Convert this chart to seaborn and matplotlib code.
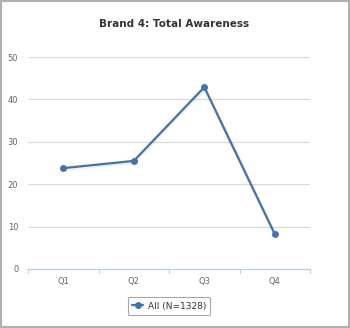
import pandas as pd
import matplotlib
matplotlib.use("Agg")
import matplotlib.pyplot as plt
import seaborn as sns
from matplotlib.patches import Rectangle

quarters = ["Q1", "Q2", "Q3", "Q4"]
awareness = [23.8, 25.5, 42.9, 8.2]
series_name = "All (N=1328)"
y_ticks = [0, 10, 20, 30, 40, 50]

df = pd.DataFrame({"Quarter": quarters, "Awareness": awareness, "Series": series_name})
df["x"] = range(len(quarters))

sns.set_style("white")
plt.rcParams["font.family"] = ["DejaVu Sans"]

fig = plt.figure(figsize=(3.5, 3.28), dpi=100)
ax = fig.add_axes([0.08, 0.180, 0.806, 0.646])

line_color = "#4572A7"

# faint shadow under the line
sns.lineplot(x=df["x"] + 0.01, y=df["Awareness"] - 0.3, ax=ax,
             color="#000000", alpha=0.06, linewidth=2.5, legend=False)
sns.lineplot(data=df, x="x", y="Awareness", hue="Series", palette=[line_color],
             marker="o", markersize=5, markeredgewidth=0, linewidth=1.6, ax=ax)

ax.set_xlim(-0.5, 3.5)
ax.set_ylim(0, 50)
ax.set_yticks(y_ticks)
ax.set_yticklabels([str(t) for t in y_ticks], fontsize=6, color="#666666")
ax.set_xticks(range(len(quarters)))
ax.set_xticklabels(quarters, fontsize=6, color="#666666")
ax.set_xlabel("")
ax.set_ylabel("")
ax.tick_params(axis="y", length=0, pad=7)
ax.tick_params(axis="x", length=0, pad=6)

for t in y_ticks[1:]:
    ax.axhline(t, color="#d8d8d8", linewidth=0.8, zorder=0)

for s in ["top", "right", "left"]:
    ax.spines[s].set_visible(False)
ax.spines["bottom"].set_color("#c0d0e0")
ax.spines["bottom"].set_linewidth(1)

# category boundary ticks
for b in [-0.5, 0.5, 1.5, 2.5, 3.5]:
    ax.plot([b, b], [0, -0.9], color="#c0d0e0", linewidth=0.8, clip_on=False)

fig.text(0.497, 0.927, "Brand 4: Total Awareness", fontsize=7.5, fontweight="bold",
         color="#333333", ha="center", va="center")

leg = ax.legend(loc="center", bbox_to_anchor=(0.5, -0.175), frameon=True,
                fontsize=6.5, handlelength=1.2, handletextpad=0.5,
                borderpad=0.5, fancybox=True)
leg.get_frame().set_edgecolor("#909090")
leg.get_frame().set_linewidth(0.8)
for txt in leg.get_texts():
    txt.set_color("#333333")

# outer border of the chart panel
fig.patches.append(Rectangle((0.003, 0.003), 0.994, 0.994, transform=fig.transFigure,
                             fill=False, edgecolor="#b0b0b0", linewidth=1.5))

fig.savefig("out.png", dpi=100)
